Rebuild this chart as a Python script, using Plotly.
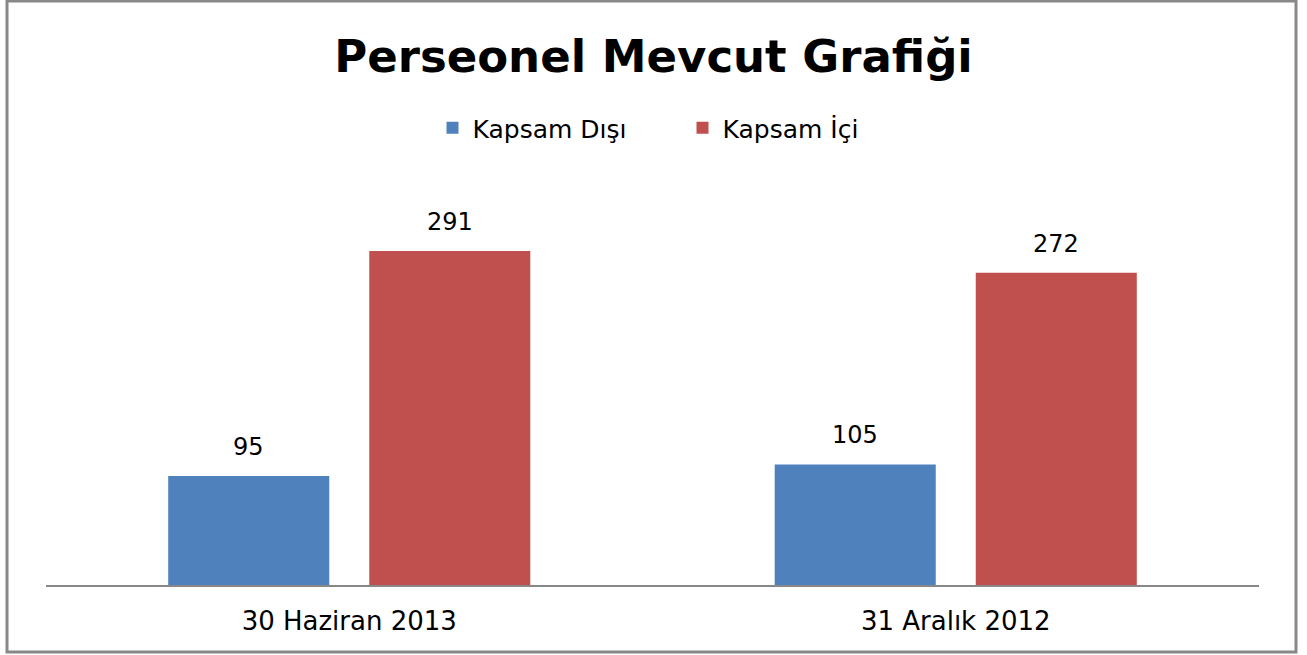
import plotly.graph_objects as go

categories = ["30 Haziran 2013", "31 Aralık 2012"]
kapsam_disi = [95, 105]
kapsam_ici = [291, 272]
series_names = ["Kapsam Dışı", "Kapsam İçi"]
colors = ["#4F81BD", "#C0504D"]
title_text = "Perseonel Mevcut Grafiği"

W, H = 1307, 655
L, R, T, B = 46, 48, 150, 70
pw, ph = W - L - R, H - T - B

fig = go.Figure()
for name, vals, col in zip(series_names, [kapsam_disi, kapsam_ici], colors):
    fig.add_trace(go.Bar(x=categories, y=vals, name=name, marker=dict(color=col, line=dict(width=0))))

ymax = ph / 1.148
slot = pw / 2 * (1 - 0.337) / 2
annotations = []
for i, vals in enumerate([kapsam_disi, kapsam_ici]):
    for c, v in zip(categories, vals):
        annotations.append(dict(x=c, y=v, xref="x", yref="y", text=str(v), showarrow=False,
                                xshift=(-slot / 2 if i == 0 else slot / 2), yshift=29,
                                font=dict(family="DejaVu Sans", size=24, color="#000")))

fig.update_layout(
    width=W, height=H,
    margin=dict(l=L, r=R, t=T, b=B),
    paper_bgcolor="white", plot_bgcolor="white",
    barmode="group", bargap=0.337, bargroupgap=0.199,
    title=dict(text="<b>" + title_text + "</b>", x=0.5, xanchor="center", y=1 - 56 / H, yanchor="middle",
               font=dict(family="DejaVu Sans", size=45, color="#000")),
    legend=dict(orientation="h", x=0.5 + 30 / pw, xanchor="center", y=(H - B - 128) / ph, yanchor="middle",
                font=dict(family="DejaVu Sans", size=25, color="#000"), itemwidth=30,
                entrywidth=205, entrywidthmode="pixels",
                bgcolor="rgba(0,0,0,0)", traceorder="normal"),
    xaxis=dict(showline=True, linecolor="#888888", linewidth=2, showgrid=False, ticks="",
               tickfont=dict(family="DejaVu Sans", size=26, color="#000"), ticklabelstandoff=12),
    yaxis=dict(visible=False, range=[0, ymax], showgrid=False, zeroline=False),
    annotations=annotations,
    showlegend=True,
)

fig.add_shape(type="rect", xref="paper", yref="paper",
              x0=(7 - L) / pw, x1=(1296 - L) / pw,
              y0=(H - B - 652) / ph, y1=(H - B - 1) / ph,
              line=dict(color="#888888", width=3), fillcolor="rgba(0,0,0,0)", layer="above")

fig.write_html("out.html", config={"displayModeBar": False},
               post_script="document.body.style.margin='0';document.body.style.overflow='hidden';")
